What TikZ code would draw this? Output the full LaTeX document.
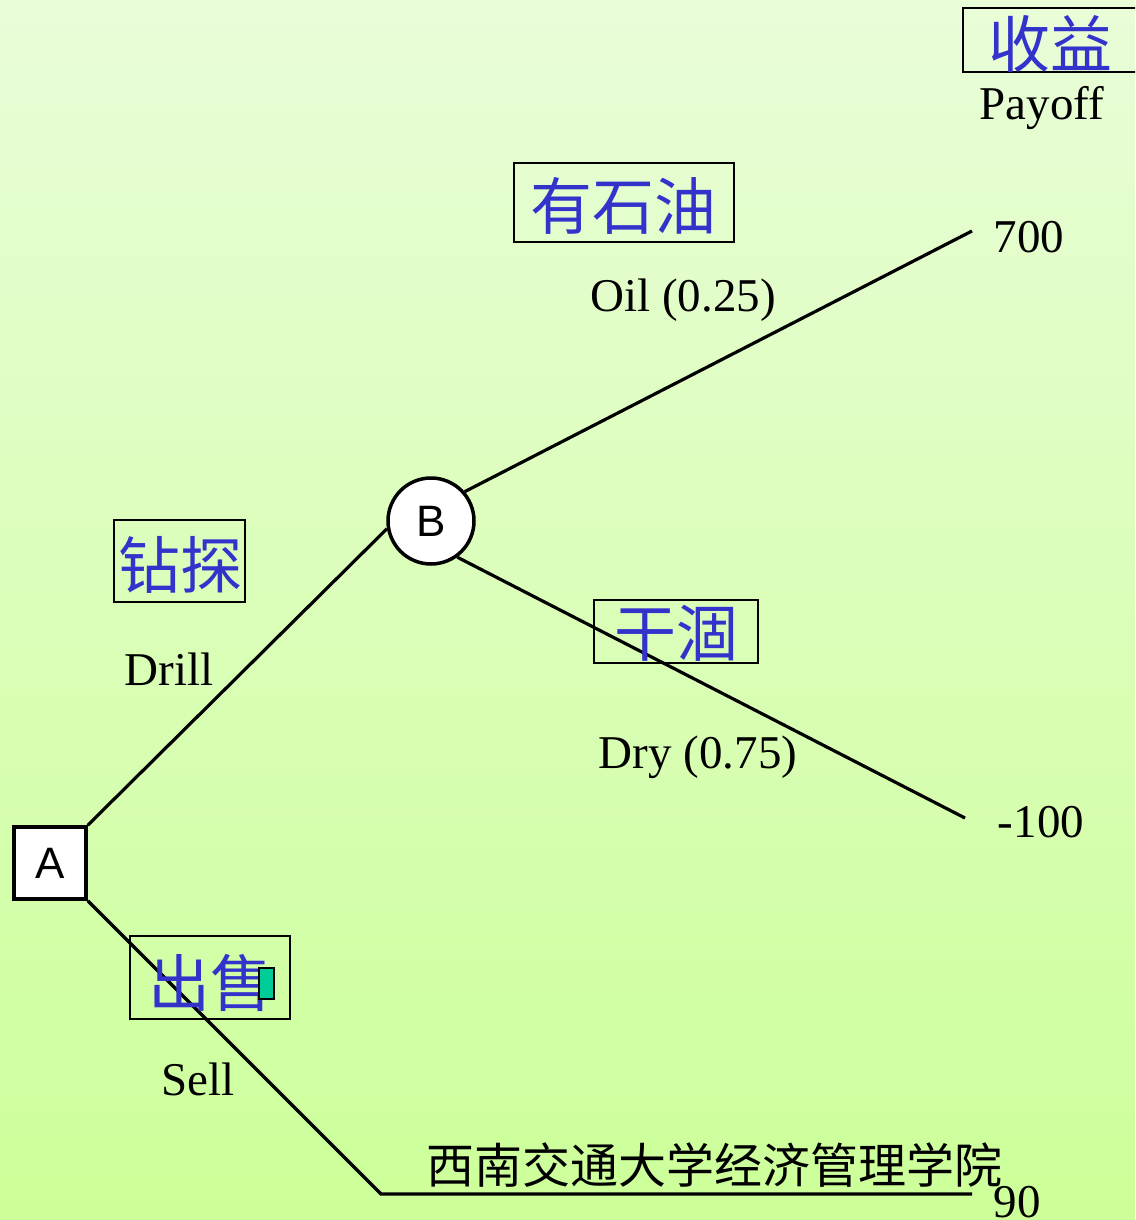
\documentclass[tikz,border=0pt]{standalone}
\usepackage{fontspec}
\setmainfont{Liberation Serif}
\newfontfamily\cjk{Noto Sans CJK SC}
\newfontfamily\arialf{Liberation Sans}
\definecolor{bgtop}{RGB}{233,253,216}
\definecolor{bgbot}{RGB}{204,255,153}
\definecolor{cnblue}{RGB}{51,51,204}
\definecolor{teal}{RGB}{0,204,153}
\begin{document}
\begin{tikzpicture}[x=1pt,y=-1pt,
  edge/.style={line width=3.2pt},
  cnbox/.style={draw=black,line width=1.5pt,inner sep=0pt,minimum height=0pt},
  cntext/.style={text=cnblue,font=\cjk\fontsize{62}{64}\selectfont,inner sep=0pt},
  lbl/.style={font=\fontsize{47}{56}\selectfont,inner sep=0pt},
  decision/.style={draw=black,fill=white,line width=3.5pt,minimum size=72pt,inner sep=0pt,font=\arialf\fontsize{44}{50}\selectfont},
  chance/.style={draw=black,fill=white,circle,line width=3.5pt,minimum size=86pt,inner sep=0pt,font=\arialf\fontsize{44}{50}\selectfont}]
\clip (0,0) rectangle (1135,1220);
\shade[top color=bgtop,bottom color=bgbot] (0,0) rectangle (1135,1220);
% nodes
\node[decision] (A) at (50,863) {A};
\node[chance] (B) at (431,521) {B};
\coordinate (oilend) at (972,231);
\coordinate (dryend) at (965,818);
\coordinate (sellcorner) at (381,1194);
\coordinate (sellend) at (972,1194);
% edges
\draw[edge] (A.north east) -- (B.190);
\draw[edge] (B.41) -- (oilend);
\draw[edge] (B.306) -- (dryend);
\draw[edge] (A.south east) -- (sellcorner) -- (sellend);
% boxes
\node[cnbox,minimum width=220pt,minimum height=79pt] (oilbox) at (624,202.5) {};
\node[cntext] (oilcn) at (623,206) {有石油};
\node[cnbox,minimum width=131pt,minimum height=82pt] (drillbox) at (179.5,561) {};
\node[cntext] (drillcn) at (180,565) {钻探};
\node[cnbox,minimum width=164pt,minimum height=63pt] (drybox) at (676,631.5) {};
\node[cntext] (drycn) at (676,633) {干涸};
\node[cnbox,minimum width=160pt,minimum height=83pt] (sellbox) at (210,977.5) {};
\node[cntext] (sellcn) at (210,983) {出售};
\node[cnbox,minimum width=180pt,minimum height=64pt,anchor=west] (paybox) at (962,40) {};
\node[cntext] (paycn) at (1050,44) {收益};
\node[draw=black,line width=2pt,fill=teal,minimum width=15pt,minimum height=31pt,inner sep=0pt] (tealbox) at (266,983) {};
% labels
\node[lbl] (payoff) at (1042,108) {Payoff};
\node[lbl] (oilen) at (683,300) {Oil (0.25)};
\node[lbl] (drillen) at (169,669) {Drill};
\node[lbl] (dryen) at (698,757) {Dry (0.75)};
\node[lbl] (sellen) at (198,1079) {Sell};
\node[lbl] (v700) at (1029,237) {700};
\node[lbl] (v100) at (1041,822) {-100};
\node[lbl] (v90) at (1017,1202) {90};
\node[font=\cjk\fontsize{48}{50}\selectfont,inner sep=0pt] (school) at (714,1165) {西南交通大学经济管理学院};
\end{tikzpicture}
\end{document}
